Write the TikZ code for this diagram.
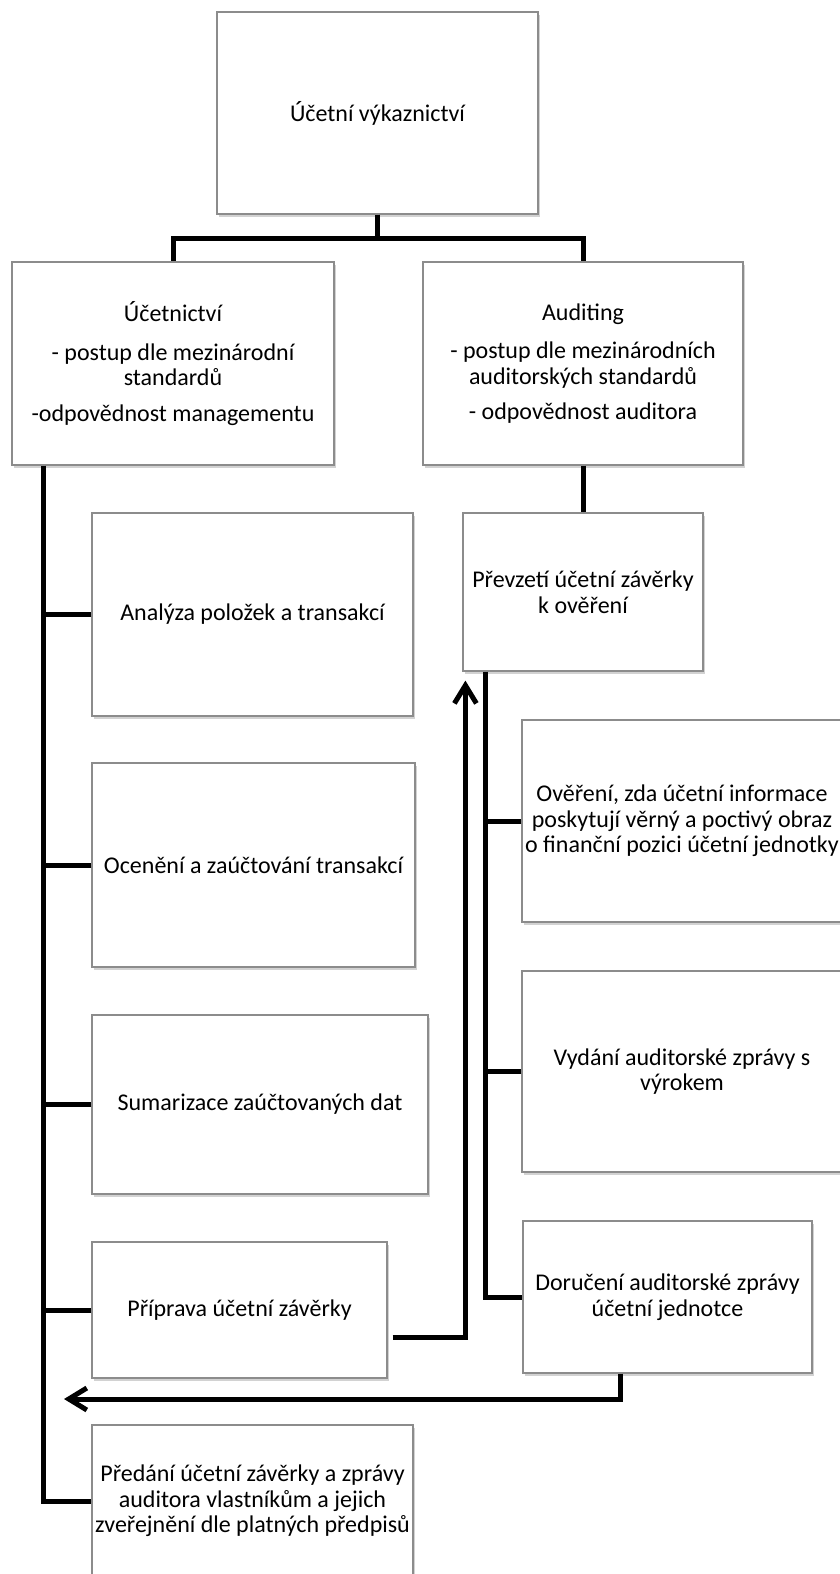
\documentclass[tikz,border=0pt]{standalone}
\usepackage{fontspec}
\setmainfont{Carlito}
\usetikzlibrary{arrows.meta,shadows}

\begin{document}
\begin{tikzpicture}[x=1pt, y=-1pt,
  every node/.style={font=\fontsize{24}{25.5}\selectfont, align=center},
  blok/.style={draw=black!45, line width=1.2pt, fill=white, inner sep=0pt,
    drop shadow={shadow xshift=1.5pt, shadow yshift=-2.5pt, fill=black!35}},
  line/.style={line width=5pt},
  arrow/.style={line width=5pt, -{Straight Barb[length=18pt, width=22pt]}}
]
\useasboundingbox (0,0) rectangle (840,1574);
\clip (0,0) rectangle (840,1574);

\node[blok, minimum width=321, minimum height=202] (ucetvyk) at (377.5,113) {Účetní výkaznictví};

\node[blok, minimum width=322, minimum height=203] (ucetnictvi) at (173,363.5)
  {Účetnictví\\[13pt]- postup dle mezinárodní\\standardů\\[10pt]-odpovědnost managementu};
\node[blok, minimum width=320, minimum height=203] (auditing) at (583,363.5)
  {Auditing\\[13pt]- postup dle mezinárodních\\auditorských standardů\\[10pt]- odpovědnost auditora};

\node[blok, minimum width=321, minimum height=203] (analyza) at (252.5,614.5) {Analýza položek a transakcí};
\node[blok, minimum width=323, minimum height=204] (oceneni) at (253.5,865) {Ocenění a zaúčtování transakcí};
\node[blok, minimum width=336, minimum height=179] (sumarizace) at (260,1104.5) {Sumarizace zaúčtovaných dat};
\node[blok, minimum width=295, minimum height=136] (priprava) at (239.5,1310) {Příprava účetní závěrky};
\node[blok, minimum width=321, minimum height=152] (predani) at (252.5,1501)
  {Předání účetní závěrky a zprávy\\auditora vlastníkům a jejich\\zveřejnění dle platných předpisů};

\node[blok, minimum width=240, minimum height=158] (prevzeti) at (583,592) {Převzetí účetní závěrky\\k ověření};
\node[blok, minimum width=320, minimum height=202] (overeni) at (682,821)
  {Ověření, zda účetní informace\\poskytují věrný a poctivý obraz\\o finanční pozici účetní jednotky};
\node[blok, minimum width=320, minimum height=201] (vydani) at (682,1071.5) {Vydání auditorské zprávy s\\výrokem};
\node[blok, minimum width=289, minimum height=152] (doruceni) at (667.5,1297) {Doručení auditorské zprávy\\účetní jednotce};

\draw[line] (ucetvyk.south) -- ++(0,24) -| (ucetnictvi.north);
\draw[line] (ucetvyk.south) -- ++(0,24) -| (auditing.north);
\draw[line] (auditing.south) -- (prevzeti.north);

\coordinate (spineL) at ([xshift=32pt]ucetnictvi.south west);
\draw[line] (spineL) |- (predani.west);
\foreach \n in {analyza,oceneni,sumarizace,priprava}
  \draw[line] (\n.west) -- (\n.west -| spineL);

\coordinate (spineR) at ([xshift=23pt]prevzeti.south west);
\draw[line] (spineR) |- (doruceni.west);
\foreach \n in {overeni,vydani}
  \draw[line] (\n.west) -- (\n.west -| spineR);

\draw[arrow] ([shift={(5pt,-27pt)}]priprava.east) -| ([shift={(3pt,-9pt)}]prevzeti.south west);
\coordinate (navrat) at (64,1399);
\draw[arrow] ([xshift=-47.5pt]doruceni.south) |- (navrat);
\end{tikzpicture}
\end{document}
